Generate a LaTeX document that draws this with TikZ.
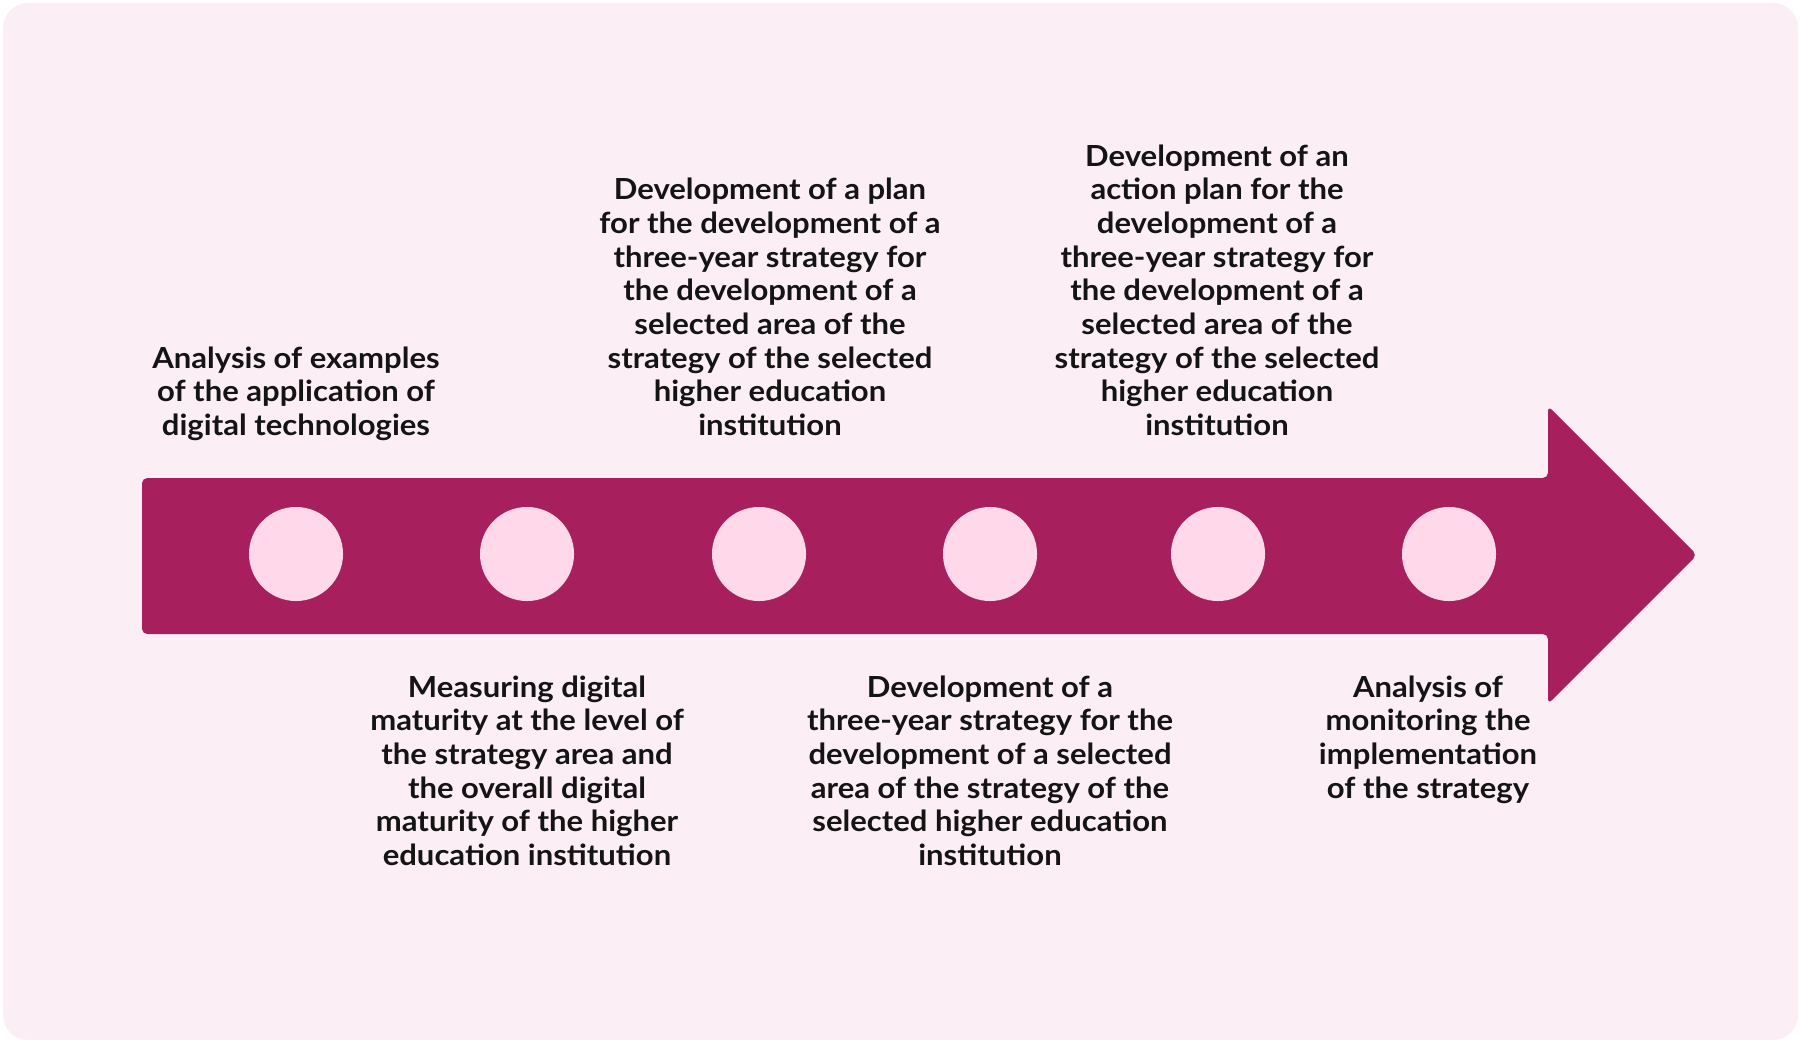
\documentclass[tikz,border=0pt]{standalone}
\usepackage{fontspec}
\setmainfont{Lato}[FakeStretch=1.07]
\definecolor{sfondo}{HTML}{FCEEF5}
\definecolor{bordeaux}{HTML}{A71F5C}
\definecolor{rosa}{HTML}{FFD9E9}
\definecolor{inchiostro}{HTML}{141414}
\tikzset{
punto/.style={circle,inner sep=0pt,minimum size=0.94cm,fill=rosa},
testo/.style={align=center,inner sep=0pt,text=inchiostro,font=\bfseries\fontsize{8.25}{9.56}\selectfont},
sopra/.style={testo,anchor=south,text depth=0pt},
sotto/.style={testo,anchor=north},
freccia/.style={fill=bordeaux,rounded corners=1.5pt}}

\begin{document}
\begin{tikzpicture}[x=0.01cm,y=-0.01cm]

\useasboundingbox (0,0) rectangle (1801,1043);
\fill[white] (0,0) rectangle (1801,1043);
\fill[sfondo,rounded corners=0.25cm] (3,3) rectangle (1798,1040);

% freccia
\fill[freccia] (142,478) -- (1548,478) -- (1548,406) -- (1697,555)
  -- (1548,704) -- (1548,634) -- (142,634) -- cycle;

\node[punto] (c1) at (296,554) {};
\node[punto] (c2) at (527,554) {};
\node[punto] (c3) at (759,554) {};
\node[punto] (c4) at (990,554) {};
\node[punto] (c5) at (1218,554) {};
\node[punto] (c6) at (1449,554) {};

\node[sopra] (t1) at (296,436) {Analysis of examples\\of the application of\\digital technologies};
\node[sotto] (t2) at (527,675) {Measuring digital\\maturity at the level of\\the strategy area and\\the overall digital\\maturity of the higher\\education institution};
\node[sopra] (t3) at (770,436) {Development of a plan\\for the development of a\\three-year strategy for\\the development of a\\selected area of the\\strategy of the selected\\higher education\\institution};
\node[sotto] (t4) at (990,675) {Development of a\\three-year strategy for the\\development of a selected\\area of the strategy of the\\selected higher education\\institution};
\node[sopra] (t5) at (1217,436) {Development of an\\action plan for the\\development of a\\three-year strategy for\\the development of a\\selected area of the\\strategy of the selected\\higher education\\institution};
\node[sotto] (t6) at (1428,675) {Analysis of\\monitoring the\\implementation\\of the strategy};

\end{tikzpicture}
\end{document}
